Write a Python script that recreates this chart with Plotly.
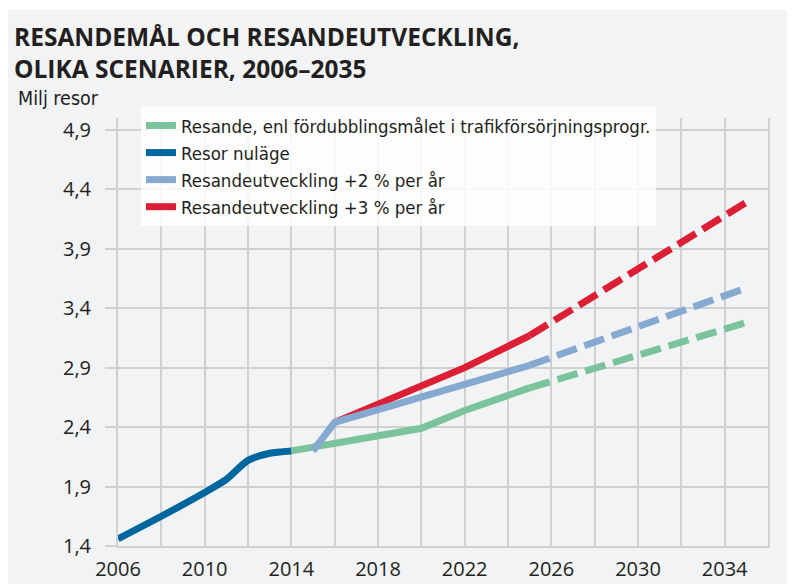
import plotly.graph_objects as go

# Values (Milj resor)
years_nulage = [2006, 2008, 2010, 2011, 2012, 2013, 2014]
resor_nulage = [1.46, 1.65, 1.85, 1.96, 2.12, 2.18, 2.20]

years_mal = [2014, 2016, 2020, 2022, 2025]
resande_mal = [2.20, 2.26, 2.39, 2.54, 2.73]
years_mal_prog = [2025, 2035]
resande_mal_prog = [2.73, 3.28]

years_2pct = [2015, 2016, 2025]
utv_2pct = [2.20, 2.44, 2.92]
years_2pct_prog = [2025, 2035]
utv_2pct_prog = [2.92, 3.57]

years_3pct = [2016, 2020, 2022, 2025]
utv_3pct = [2.44, 2.74, 2.90, 3.17]
years_3pct_prog = [2025, 2035]
utv_3pct_prog = [3.17, 4.29]

names = [
    "Resande, enl fördubblingsmålet i trafikförsörjningsprogr.",
    "Resor nuläge",
    "Resandeutveckling +2 % per år",
    "Resandeutveckling +3 % per år",
]

GREEN = "#7bc49b"
DARKBLUE = "#00679e"
LIGHTBLUE = "#86a9cf"
RED = "#dc1f35"
TXT = "#231f20"
GRID = "#cfd0d2"
BG = "#f2f3f5"
LW = 7
DASH = "21px,8px"
NARROW = "Liberation Sans Narrow, DejaVu Sans Condensed, sans-serif"
TICKFONT = "Open Sans, sans-serif"

fig = go.Figure()

# drawing order: dark blue, green, red, light blue (legend order via legendrank)
fig.add_trace(go.Scatter(x=years_nulage, y=resor_nulage, mode="lines", name=names[1],
                         line=dict(color=DARKBLUE, width=LW, shape="spline", smoothing=0.7),
                         legendrank=2))
fig.add_trace(go.Scatter(x=years_mal, y=resande_mal, mode="lines", name=names[0],
                         line=dict(color=GREEN, width=LW), legendrank=1))
fig.add_trace(go.Scatter(x=years_mal_prog, y=resande_mal_prog, mode="lines", showlegend=False,
                         line=dict(color=GREEN, width=LW, dash=DASH)))
fig.add_trace(go.Scatter(x=years_3pct, y=utv_3pct, mode="lines", name=names[3],
                         line=dict(color=RED, width=LW), legendrank=4))
fig.add_trace(go.Scatter(x=years_3pct_prog, y=utv_3pct_prog, mode="lines", showlegend=False,
                         line=dict(color=RED, width=LW, dash=DASH)))
fig.add_trace(go.Scatter(x=years_2pct, y=utv_2pct, mode="lines", name=names[2],
                         line=dict(color=LIGHTBLUE, width=LW), legendrank=3))
fig.add_trace(go.Scatter(x=years_2pct_prog, y=utv_2pct_prog, mode="lines", showlegend=False,
                         line=dict(color=LIGHTBLUE, width=LW, dash=DASH)))

# the page adds an 8px body margin, so the figure is 8px smaller than the window
# plot area in figure pixels: x 110..760, y 110..538
W, H = 787, 576
L, R, T, B = 110, 27, 110, 38
pw, ph = W - L - R, H - T - B

def px_x(p):
    return (p - L) / pw

def px_y(p):
    return (H - B - p) / ph

fig.update_layout(
    width=W, height=H,
    margin=dict(l=L, r=R, t=T, b=B, autoexpand=False),
    paper_bgcolor=BG, plot_bgcolor=BG,
    separators=", ",
    font=dict(family=NARROW, size=18, color=TXT),
    title=dict(
        text="RESANDEMÅL OCH RESANDEUTVECKLING,<br>OLIKA SCENARIER, 2006–2035",
        font=dict(family="Open Sans, sans-serif", size=24.5, color=TXT, weight="bold"),
        x=6 / W, xanchor="left", xref="container",
        y=1 - 38 / H, yanchor="top", yref="container",
    ),
    xaxis=dict(
        range=[2006, 2036], tick0=2006, dtick=4,
        showgrid=True, gridcolor=GRID, gridwidth=2,
        minor=dict(dtick=2, showgrid=True, gridcolor=GRID, gridwidth=2),
        showline=True, linecolor=GRID, linewidth=2,
        ticks="", zeroline=False, fixedrange=True, automargin=False,
        tickfont=dict(family=TICKFONT, size=20, color=TXT),
        ticklabelstandoff=4,
    ),
    yaxis=dict(
        range=[1.4, 5.0], tick0=1.4, dtick=0.5, tickformat=".1f",
        showgrid=True, gridcolor=GRID, gridwidth=2,
        showline=True, linecolor=GRID, linewidth=2, mirror=True,
        ticks="outside", ticklen=11, tickwidth=2, tickcolor=GRID,
        ticklabelstandoff=10, zeroline=False, fixedrange=True, automargin=False,
        tickfont=dict(family=TICKFONT, size=20, color=TXT),
    ),
    legend=dict(
        x=px_x(133), y=px_y(99), xanchor="left", yanchor="top",
        bgcolor="rgba(255,255,255,0.82)", borderwidth=0,
        font=dict(family=NARROW, size=18.5, color=TXT), itemwidth=30, tracegroupgap=0,
    ),
    shapes=[dict(type="rect", xref="paper", yref="paper",
                 x0=px_x(0), x1=px_x(W), y0=px_y(2), y1=px_y(0),
                 fillcolor="white", line=dict(width=0), layer="below")],
    annotations=[dict(text="Milj resor", xref="paper", yref="paper",
                      x=px_x(8), y=px_y(90), xanchor="left", yanchor="middle",
                      showarrow=False, font=dict(family=NARROW, size=19.5, color=TXT))],
)

fig.write_html("out.html")
